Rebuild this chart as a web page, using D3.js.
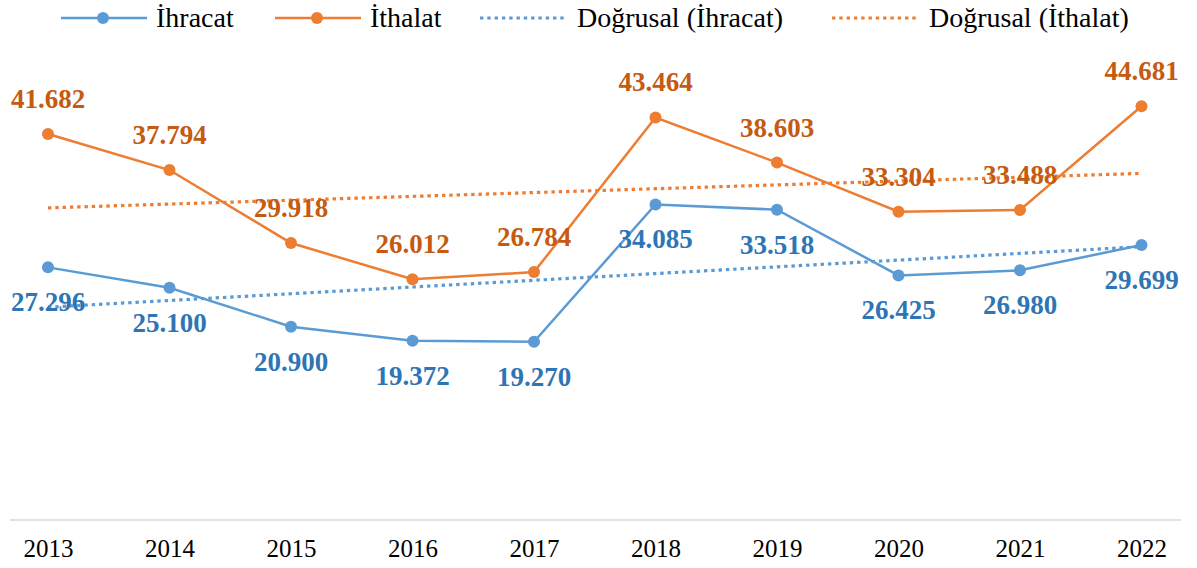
<!DOCTYPE html>
<html>
<head>
<meta charset="utf-8">
<script src="https://cdn.jsdelivr.net/npm/d3@7"></script>
<style>
  body { margin: 0; background: #fff; }
  svg { display: block; }
</style>
</head>
<body>
<div id="chart"></div>
<script>
// data
var years = ['2013', '2014', '2015', '2016', '2017', '2018', '2019', '2020', '2021', '2022'];
var ihracat = [27.296, 25.100, 20.900, 19.372, 19.270, 34.085, 33.518, 26.425, 26.980, 29.699];
var ithalat = [41.682, 37.794, 29.918, 26.012, 26.784, 43.464, 38.603, 33.304, 33.488, 44.681];
var legendLabels = ['İhracat', 'İthalat', 'Doğrusal (İhracat)', 'Doğrusal (İthalat)'];

function renderChart() {
  var width = 1197, height = 568;
  var blue = '#5B9BD5', orange = '#ED7D31';
  var blueText = '#2E75B6', orangeText = '#C55A11';

  var svg = d3.select('#chart')
    .append('svg')
    .attr('width', width)
    .attr('height', height)

  var xScale = d3.scalePoint()
    .domain(years)
    .range([48, 1141.5])
  var yScale = d3.scaleLinear()
    .domain([0, 50])
    .range([520.4, 56.9])

  // x axis
  var xAxis = d3.axisBottom(xScale)
    .tickSize(0)
    .tickPadding(19)
  var ax = svg.append('g')
    .attr('transform', 'translate(0,520)')
    .call(xAxis)
  ax.select('.domain').remove()
  ax.append('line')
    .attr('x1', 10).attr('x2', 1181)
    .attr('stroke', '#d9d9d9')
    .attr('stroke-width', 1.5)
  ax.selectAll('.tick text')
    .attr('font-family', '"Liberation Serif", "Times New Roman", serif')
    .attr('font-size', 25)
    .attr('fill', '#000')
    .attr('dy', '0.71em')

  // linear trend (least squares, like Excel)
  function trend(values) {
    var n = values.length;
    var mx = (n - 1) / 2;
    var my = d3.mean(values);
    var sxy = 0, sxx = 0;
    values.forEach(function(v, i) {
      sxy += (i - mx) * (v - my);
      sxx += (i - mx) * (i - mx);
    })
    var b = sxy / sxx;
    return values.map(function(v, i) { return my + b * (i - mx); });
  }

  var line = d3.line()
    .x(function(d, i) { return xScale(years[i]); })
    .y(function(d) { return yScale(d); })

  var series = [
    { values: ihracat, color: blue, text: blueText, dy: 44 },
    { values: ithalat, color: orange, text: orangeText, dy: -26 }
  ];

  // trend lines
  series.forEach(function(s) {
    svg.append('path')
      .attr('d', line(trend(s.values)))
      .attr('fill', 'none')
      .attr('stroke', s.color)
      .attr('stroke-width', 3.2)
      .attr('stroke-dasharray', '3.4,3.9')
  })

  // Lines and markers
  series.forEach(function(s) {
    svg.append('path')
      .attr('d', line(s.values))
      .attr('fill', 'none')
      .attr('stroke', s.color)
      .attr('stroke-width', 2.5)
    svg.selectAll(null)
      .data(s.values)
      .enter()
      .append('circle')
      .attr('cx', function(d, i) { return xScale(years[i]); })
      .attr('cy', function(d) { return yScale(d); })
      .attr('r', 6)
      .attr('fill', s.color)
  })

  // data labels
  series.forEach(function(s) {
    svg.selectAll(null)
      .data(s.values)
      .enter()
      .append('text')
      .attr('x', function(d, i) { return xScale(years[i]); })
      .attr('y', function(d) { return yScale(d) + s.dy; })
      .attr('text-anchor', 'middle')
      .attr('font-family', '"Liberation Serif", "Times New Roman", serif')
      .attr('font-weight', 'bold')
      .attr('font-size', 27)
      .attr('fill', s.text)
      .text(function(d) { return d.toFixed(3); })
  })

  // Legend
  var legendItems = [
    { x: 61, color: blue, dotted: false },
    { x: 275, color: orange, dotted: false },
    { x: 480, color: blue, dotted: true },
    { x: 832, color: orange, dotted: true }
  ];
  var lg = svg.append('g').attr('class', 'legend')
  legendItems.forEach(function(it, i) {
    var g = lg.append('g').attr('transform', 'translate(' + it.x + ',18)')
    g.append('line')
      .attr('x1', 0).attr('x2', 86)
      .attr('stroke', it.color)
      .attr('stroke-width', it.dotted ? 3.2 : 2.5)
      .attr('stroke-dasharray', it.dotted ? '3.4,3.9' : null)
    if (!it.dotted) {
      g.append('circle')
        .attr('cx', 42).attr('r', 6)
        .attr('fill', it.color)
    }
    g.append('text')
      .attr('x', it.dotted ? 97 : 95)
      .attr('y', 9)
      .attr('font-family', '"Liberation Serif", "Times New Roman", serif')
      .attr('font-size', 28)
      .attr('fill', '#000')
      .text(legendLabels[i])
  })
}

renderChart();
</script>
</body>
</html>
